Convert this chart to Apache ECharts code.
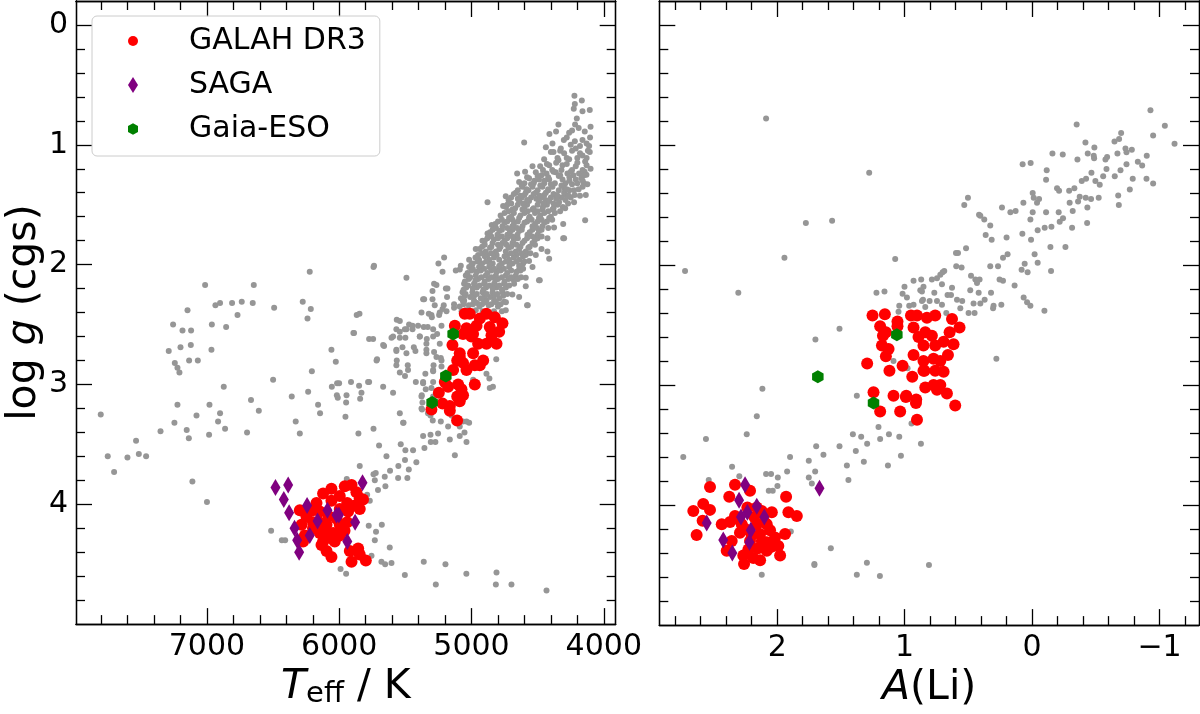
<!DOCTYPE html>
<html>
<head>
<meta charset="utf-8">
<title>log g vs Teff and A(Li)</title>
<script src="https://cdn.jsdelivr.net/npm/echarts@6/dist/echarts.min.js"></script>
<style>
  html, body { margin: 0; padding: 0; background: #fff; }
  #chart { width: 1200px; height: 714px; }
</style>
</head>
<body>
<div id="chart"></div>
<script>
// ---- ticks ----
const teffTicks = [4000, 5000, 6000, 7000];
const teffMinor = [4200, 4400, 4600, 4800, 5200, 5400, 5600, 5800, 6200, 6400, 6600, 6800, 7200, 7400, 7600, 7800];
const aliTicks = [-1, 0, 1, 2];
const aliMinor = [-1.2, -0.8, -0.6, -0.4, -0.2, 0.2, 0.4, 0.6, 0.8, 1.2, 1.4, 1.6, 1.8, 2.2, 2.4, 2.6, 2.8];
const loggTicks = [0, 1, 2, 3, 4];
const loggMinor = [0.2, 0.4, 0.6, 0.8, 1.2, 1.4, 1.6, 1.8, 2.2, 2.4, 2.6, 2.8, 3.2, 3.4, 3.6, 3.8, 4.2, 4.4, 4.6, 4.8];

// ---- left panel: [Teff, log g] ----
const fieldTeff = [
  [7803,3.25],[7750,3.60],[7702,3.73],[7601,3.61],[7536,3.47],[7515,3.58],[7460,3.60],[7351,3.39],[7289,2.72],[7256,2.50],
  [7185,2.55],[7120,2.55],[7147,2.38],[7200,2.69],[7122,2.67],[7243,2.82],[7223,2.86],[7208,2.90],[7135,2.80],[7069,2.80],
  [7014,2.17],[6936,2.34],[6901,2.32],[6963,2.50],[6855,2.52],[6966,2.71],[6810,2.32],[6737,2.31],[6654,2.32],[6646,2.17],
  [6769,2.42],[6492,2.36],[6276,2.31],[6223,2.06],[6215,2.37],[6240,2.45],[7223,3.17],[7246,3.32],[7153,3.38],[7137,3.45],
  [7079,3.26],[6981,3.17],[6984,3.42],[6916,3.31],[6901,3.24],[6863,3.37],[6873,3.02],[6697,3.40],[6667,3.13],[6608,3.22],
  [7110,3.81],[6500,2.96],[6359,3.10],[6329,3.31],[6298,3.41],[6235,3.06],[6207,2.89],[6160,3.17],[6145,3.24],[6059,2.71],
  [6026,2.81],[6056,3.02],[6016,2.99],[6001,2.99],[6018,3.09],[6011,3.11],[5945,3.09],[5948,3.15],[5953,3.27],[5911,2.98],
  [5850,3.01],[5832,3.07],[5842,3.12],[5774,2.98],[5855,3.41],[5893,2.57],[5868,2.42],[5847,2.41],[5774,2.62],[5744,2.62],
  [5741,2.02],[5741,3.37],[5845,3.68],[5943,3.79],[5741,3.75],[7000,3.98],
  [5888,2.57],[5714,2.79],[5668,3.02],[5593,3.07],[5542,3.24],[5514,3.32],[5699,3.51],[5643,3.60],[5535,3.50],[5500,3.55],
  [5442,3.55],[5503,3.63],[5553,3.68],[5417,3.65],[5474,3.71],[5616,3.72],[5656,3.77],[5724,3.74],[5731,3.80],[5555,3.78],
  [5485,3.78],[5651,3.85],[5707,3.88],[5769,3.97],[5789,3.92],[5777,4.18],[5678,4.17],[5722,4.23],[5731,4.30],[5618,4.36],
  [5756,4.43],[5681,4.48],[5653,4.50],[5605,4.49],[5990,4.54],[5948,4.58],[5504,4.59],[5361,4.48],[5270,4.67],[5197,4.50],
  [5039,4.58],[4811,4.57],[4816,4.67],[6515,4.22],[6434,4.30],[6409,4.30],[4698,4.67],[4433,4.72],
  [5565,2.46],[5542,2.47],[5472,2.50],[5446,2.54],[5404,2.51],[5361,2.52],[5568,2.54],[5492,2.54],[5605,2.61],[5542,2.61],
  [5500,2.61],[5436,2.69],[5391,2.60],[5338,2.62],[5331,2.52],[5290,2.54],[5260,2.58],[5227,2.51],[5300,2.44],[5245,2.42],
  [5189,2.39],[5132,2.33],[5066,2.30],[5026,2.38],[4958,2.32],[4887,2.30],[5661,2.68],[5568,2.72],[5522,2.69],[5424,2.72],
  [5341,2.71],[5283,2.73],[5565,2.80],[5482,2.84],[5542,2.90],[5503,2.93],[5421,2.98],[5366,2.99],[5290,2.98],[5346,3.04],
  [5376,3.09],[5290,2.89],[5287,2.84],[5232,2.78],[5349,2.91],[5371,3.15],[5374,3.21],[5329,3.24],[5293,3.30],[5232,3.31],
  [5177,3.35],[5366,3.43],[5310,3.42],[5308,3.48],[5273,3.48],[5356,3.53],[5253,3.41],[5164,3.46],[5089,3.43],[5053,3.40],
  [5038,3.48],[5018,3.32],[5126,3.59],[4865,2.95],[4838,3.02],[4813,2.79],[5151,3.26],[5064,3.31],
  [5737,2.01],[5492,2.11],[5089,2.04],[5265,2.17],[5295,2.22],[5366,2.29],[5194,2.20],[5185,2.27],[5278,2.34],[5210,2.34],
  [5240,2.40],[5303,2.42],[5378,2.40],[5446,2.51],[5542,2.56],[5504,2.54],[5593,2.60],[5668,2.67],[5391,2.60],[5341,2.66],
  [5290,2.60],[5240,2.66],[5568,2.71],[5492,2.74],[5341,2.74],[5265,2.77],[5227,2.80],[5718,2.80],[5568,2.84],[5480,2.88],
  [5290,2.88],[5227,2.85],[5782,2.98],[5366,2.98],[5303,3.03],[5378,3.10],[5290,3.10],[5517,3.32],[5378,3.20],[5310,3.26],
  [5089,3.35],[5038,3.31],[4862,3.03],[4988,2.96],[5038,2.85],[4887,2.91],[4580,2.34],[4307,1.78],[4484,2.13],
  [4222,0.59],[4166,0.63],[4219,0.66],[4227,0.70],[4161,0.72],[4106,0.71],[4204,0.78],[4343,0.83],[4217,0.83],[4100,0.85],
  [4361,0.89],[4411,0.91],[4262,0.90],[4144,0.89],[4104,0.94],[4602,0.98],[4302,0.96],[4219,0.97],[4161,0.96],[4111,1.01],
  [4388,0.99],[4438,1.02],[4400,1.06],[4325,1.03],[4212,1.03],[4161,1.09],[4106,1.06],[4262,1.12],[4343,1.13],[4451,1.12],
  [4481,1.18],[4413,1.17],[4312,1.17],[4212,1.18],[4141,1.14],[4100,1.20],[4539,1.18],[4514,1.23],[4433,1.24],[4363,1.23],
  [4275,1.24],[4187,1.24],[4131,1.25],[4655,1.24],[4565,1.28],[4490,1.29],[4413,1.29],[4312,1.29],[4212,1.29],[4124,1.33],
  [4640,1.31],[4615,1.35],[4539,1.35],[4464,1.35],[4388,1.35],[4300,1.36],[4225,1.38],[4136,1.42],[4741,1.43],[4761,1.51],
  [4879,1.48],[4665,1.40],[4590,1.40],[4514,1.40],[4438,1.40],[4363,1.42],[4287,1.42],[4225,1.48],[4640,1.47],[4565,1.47],
  [4490,1.47],[4413,1.47],[4338,1.48],[4292,1.53],[4691,1.54],[4615,1.54],[4539,1.54],[4464,1.54],[4388,1.54],[4716,1.61],
  [4640,1.61],[4565,1.61],[4490,1.61],[4413,1.61],[4307,1.66],[4141,1.63],[4847,1.67],[4766,1.68],[4691,1.68],[4615,1.68],
  [4539,1.68],[4464,1.68],[4376,1.69],[4300,1.78],[4879,1.74],[4804,1.75],[4729,1.75],[4653,1.75],[4577,1.75],[4501,1.75],
  [4426,1.78],[4917,1.80],[4841,1.82],[4766,1.82],[4691,1.82],[4615,1.82],[4539,1.82],[4471,1.87],[4426,1.89],[4413,1.95],
  [4968,1.87],[4892,1.89],[4816,1.89],[4741,1.89],[4665,1.89],[4590,1.89],[4514,1.92],[5207,1.94],[5250,1.99],[5018,1.96],
  [4943,1.96],[4867,1.96],[4791,1.96],[4716,1.96],[4640,1.96],[4565,1.97],[5081,2.01],[5119,2.05],[5219,2.06],[5018,2.02],
  [4943,2.02],[4867,2.02],[4791,2.02],[4716,2.02],[4640,2.04],[4539,2.02],[5043,2.09],[4968,2.09],[4892,2.09],[4816,2.09],
  [4741,2.09],[4665,2.09],[4590,2.11],[4490,2.13],[5283,2.16],[5182,2.20],[5056,2.16],[4981,2.16],[4905,2.16],[4829,2.16],
  [4754,2.16],[4678,2.16],[4590,2.18],[5358,2.29],[5295,2.29],[5068,2.23],[4993,2.23],[4917,2.23],[4841,2.23],[4766,2.23],
  [4691,2.25],[4640,2.27],[4575,2.34],[5132,2.36],[5219,2.37],[5056,2.30],[4981,2.30],[4905,2.30],[4829,2.30],[4754,2.31],
  [5043,2.38],[4968,2.38],[4741,2.38],[5323,2.41],
  [4350,1.11],[4280,1.11],[4200,1.11],[4130,1.11],[4460,1.21],[4390,1.21],[4320,1.21],[4240,1.21],[4160,1.21],
  [4600,1.32],[4530,1.32],[4450,1.32],[4370,1.32],[4290,1.32],[4200,1.32],[4150,1.32],[4650,1.38],[4570,1.38],[4500,1.38],
  [4420,1.38],[4340,1.38],[4260,1.38],[4700,1.44],[4620,1.44],[4550,1.44],[4470,1.44],[4400,1.44],[4320,1.44],[4250,1.44],
  [4730,1.50],[4650,1.50],[4580,1.50],[4500,1.50],[4430,1.50],[4350,1.50],[4750,1.57],[4680,1.57],[4600,1.57],[4520,1.57],
  [4450,1.57],[4370,1.57],[4800,1.64],[4730,1.64],[4650,1.64],[4580,1.64],[4500,1.64],[4430,1.64],[4840,1.71],[4770,1.71],
  [4690,1.71],[4620,1.71],[4540,1.71],[4470,1.71],[4880,1.78],[4800,1.78],[4730,1.78],[4650,1.78],[4580,1.78],[4500,1.78],
  [4920,1.85],[4850,1.85],[4780,1.85],[4700,1.85],[4630,1.85],[4560,1.85],[4950,1.92],[4880,1.92],[4810,1.92],[4730,1.92],
  [4660,1.92],[4590,1.92],[4990,1.99],[4920,1.99],[4840,1.99],[4770,1.99],[4690,1.99],[4610,1.99],[5000,2.05],[4930,2.05],
  [4850,2.05],[4780,2.05],[4700,2.05],[4630,2.05],[5020,2.12],[4950,2.12],[4870,2.12],[4800,2.12],[4720,2.12],[4650,2.12],
  [5040,2.19],[4960,2.19],[4890,2.19],[4810,2.19],[4740,2.19],[5050,2.26],[4980,2.26],[4900,2.26],[4830,2.26],[4760,2.26],
  [5060,2.33],[4990,2.33],[4920,2.33],[4850,2.33],[4780,2.33],
  [4380,1.06],[4300,1.07],[4240,1.05],[4180,1.07],[4120,1.05],[4430,1.16],[4360,1.15],[4280,1.16],[4200,1.15],[4130,1.17],
  [4580,1.27],[4500,1.26],[4420,1.27],[4340,1.26],[4260,1.27],[4170,1.28],[4620,1.34],[4550,1.33],[4480,1.34],[4400,1.33],
  [4320,1.34],[4240,1.33],[4160,1.35],[4680,1.41],[4600,1.42],[4530,1.41],[4450,1.42],[4380,1.41],[4300,1.40],[4220,1.42],
  [4720,1.46],[4650,1.45],[4580,1.46],[4510,1.45],[4440,1.46],[4360,1.45],[4290,1.46],[4740,1.52],[4670,1.53],[4600,1.52],
  [4530,1.53],[4460,1.52],[4380,1.53],[4310,1.52],[4780,1.59],[4700,1.60],[4630,1.59],[4560,1.60],[4480,1.59],[4400,1.60],
  [4820,1.66],[4750,1.65],[4680,1.66],[4600,1.65],[4520,1.66],[4450,1.65],[4860,1.73],[4790,1.72],[4710,1.73],[4640,1.72],
  [4560,1.73],[4490,1.72],[4900,1.80],[4830,1.79],[4750,1.80],[4680,1.79],[4600,1.80],[4520,1.79],[4940,1.87],[4860,1.86],
  [4790,1.87],[4720,1.86],[4640,1.87],[4570,1.86],[4970,1.94],[4900,1.93],[4830,1.94],[4750,1.93],[4680,1.94],[4610,1.93],
  [5000,2.00],[4930,2.01],[4860,2.00],[4790,2.01],[4710,2.00],[4640,2.01],[5030,2.07],[4960,2.06],[4880,2.07],[4810,2.06],
  [4730,2.07],[4660,2.06],[5050,2.14],[4970,2.13],[4900,2.14],[4820,2.13],[4750,2.14],[4680,2.13],[5060,2.21],[4990,2.20],
  [4910,2.21],[4840,2.20],[4770,2.21],[5080,2.28],[5010,2.27],[4930,2.28],[4860,2.27],[4790,2.28],[5090,2.35],[5020,2.34],
  [4940,2.35],[4870,2.34],[4800,2.35],
  [4595,1.225],[4380,1.225],[4250,1.225],[4145,1.225],[4470,1.255],[4330,1.255],[4230,1.255],[4150,1.255],
  [4525,1.30],[4450,1.30],[4260,1.30],[4160,1.30],[4585,1.37],[4420,1.37],[4280,1.37],[4190,1.37],
  [4630,1.425],[4485,1.425],[4350,1.425],[4265,1.425],[4180,1.425],[4700,1.49],[4610,1.49],[4455,1.49],[4380,1.49],[4270,1.49],
  [4720,1.555],[4575,1.555],[4500,1.555],[4420,1.555],[4330,1.555],[4770,1.625],[4690,1.625],[4545,1.625],[4470,1.625],[4390,1.625],
  [4815,1.695],[4730,1.695],[4655,1.695],[4505,1.695],[4420,1.695],[4850,1.765],[4770,1.765],[4690,1.765],[4540,1.765],[4470,1.765],
  [4900,1.835],[4800,1.835],[4735,1.835],[4660,1.835],[4520,1.835],[4920,1.905],[4850,1.905],[4700,1.905],[4625,1.905],[4555,1.905],
  [4955,1.975],[4890,1.975],[4740,1.975],[4660,1.975],[4600,1.975],[4990,2.035],[4905,2.035],[4830,2.035],[4755,2.035],[4610,2.035],
  [5010,2.105],[4925,2.105],[4850,2.105],[4770,2.105],[4700,2.105],[4625,2.105],[5025,2.175],[4940,2.175],[4865,2.175],[4790,2.175],
  [4715,2.175],[5045,2.245],[4960,2.245],[4885,2.245],[4805,2.245],[4730,2.245],[5060,2.315],[4975,2.315],[4895,2.315],[4815,2.315],
  [4740,2.315],[5075,2.39],[5000,2.39],[4915,2.39],[4830,2.39],[4770,2.39],
  [4250,1.00],[4180,1.01],[4330,1.05],[4280,0.94],[4130,0.99],[4240,0.88],[4190,0.86]
];
const galahTeff = [
  [5051,2.41],[5013,2.41],[4887,2.41],[4824,2.44],[4937,2.45],[4766,2.49],[5126,2.51],[5038,2.53],[4962,2.51],[4862,2.52],
  [4791,2.56],[5064,2.58],[5001,2.60],[4849,2.59],[4887,2.66],[4811,2.66],[4950,2.66],[5144,2.67],[4988,2.74],[5089,2.74],
  [4912,2.80],[5108,2.80],[5064,2.82],[4975,2.84],[5038,2.88],[5139,2.88],[5202,2.98],[5177,3.02],[5101,3.00],[4975,3.00],
  [5076,3.04],[5247,3.07],[5108,3.10],[5064,3.09],[5219,3.16],[5164,3.18],[5089,3.14],[5303,3.21],[5164,3.22],[5109,3.30],
  [4988,2.58],[4937,2.84],[5089,2.77],
  [6122,3.91],[6059,3.87],[5996,3.93],[5958,3.85],[5907,3.84],[5870,3.90],[5845,3.95],[5820,3.96],[6172,3.99],[6059,3.97],
  [5940,3.99],[5882,4.01],[6298,4.05],[6248,4.10],[6147,4.06],[5996,4.04],[5933,4.06],[5845,4.04],[6285,4.17],[6198,4.15],
  [6096,4.17],[5996,4.17],[5940,4.15],[6260,4.26],[6147,4.24],[6046,4.24],[5996,4.26],[6273,4.31],[6122,4.31],[6034,4.31],
  [6096,4.39],[6059,4.44],[5920,4.39],[5857,4.37],[5907,4.48],[5845,4.42],[5799,4.47],[6134,4.34],[6198,4.20],[6109,4.23],
  [6080,4.10],[6020,4.12],[6150,4.15],[6200,4.05],[5960,4.22],[6070,4.28]
];
const sagaTeff = [
  [6482,3.86],[6386,3.84],[6419,3.96],[6379,4.07],[6338,4.20],[6318,4.30],[6303,4.40],[6243,4.01],[6223,4.26],[6164,4.14],
  [6089,4.05],[6021,4.09],[6003,4.09],[5880,4.15],[5939,4.31],[5824,3.82]
];
const gesTeff = [[5139,2.58],[5194,2.93],[5298,3.15]];

// ---- right panel: [A(Li), log g] ----
const fieldLi = [
  [2.087,0.78],[1.278,1.23],[1.775,1.65],[1.569,1.63],[1.943,1.94],[1.074,1.95],[2.723,2.05],[2.305,2.23],[1.221,2.23],[1.158,2.22],
  [1.511,2.53],[1.700,2.62],[2.116,3.03],[1.001,2.18],[0.930,2.13],[0.870,2.12],[0.852,2.18],[1.016,2.24],[0.982,2.27],[0.877,2.21],
  [1.042,2.34],[1.048,2.39],[0.964,2.34],[0.930,2.33],[0.856,2.29],[1.087,2.80],[0.977,2.86],[1.375,3.09],
  [-0.929,0.71],[-1.042,0.84],[-1.118,0.99],[-0.950,0.92],[-0.350,0.83],[-0.699,0.90],[-0.683,0.95],[-0.647,0.97],[-0.419,0.98],[-0.489,1.02],
  [-0.733,1.03],[-0.783,1.04],[-0.741,1.06],[-0.670,1.07],[-0.900,1.09],[-0.437,1.07],[-0.484,1.09],[-0.487,1.11],[-0.160,1.07],[-0.241,1.08],
  [-0.356,1.12],[-0.589,1.10],[-0.576,1.12],[-0.830,1.14],[-0.864,1.17],[-0.741,1.16],[-0.694,1.21],[-0.466,1.23],[-0.584,1.20],[-0.649,1.26],
  [-0.558,1.26],[-0.790,1.28],[-0.898,1.28],[-0.950,1.32],[-0.767,1.37],[-0.390,1.30],[-0.424,1.28],[-0.497,1.30],[-0.531,1.33],[-0.332,1.36],
  [-0.291,1.38],[-0.196,1.36],[-0.212,1.38],[-0.115,1.21],[-0.110,1.29],[0.074,1.16],[0.011,1.15],[-0.005,1.40],[-0.013,1.44],[-0.055,1.45],
  [-0.039,1.48],[0.068,1.48],[-0.374,1.43],[-0.421,1.44],[-0.463,1.45],[-0.523,1.44],[-0.361,1.47],[-0.295,1.48],[-0.434,1.52],[-0.676,1.42],
  [-0.681,1.50],[-0.110,1.56],[-0.209,1.56],[-0.319,1.55],[-0.243,1.61],[-0.217,1.64],[-0.432,1.65],[-0.314,1.69],[-0.152,1.68],[-0.099,1.69],
  [-0.044,1.71],[0.013,1.62],[-0.005,1.56],[0.129,1.55],[0.170,1.56],[0.236,1.52],[0.076,1.74],[0.008,1.79],[-0.144,1.85],[-0.262,1.85],
  [-0.020,1.91],[-0.044,1.98],[-0.149,2.05],[0.058,1.99],[0.035,2.06],[0.082,2.04],[0.066,2.27],[0.039,2.31],[0.013,2.34],[-0.097,2.38],
  [0.137,2.17],[0.192,1.91],[0.228,1.94],[0.200,1.77],[0.317,1.79],[0.364,1.75],[0.328,1.67],[0.406,1.59],[0.375,1.62],[0.416,1.58],
  [0.532,1.50],[0.503,1.44],[0.518,1.86],[0.597,1.90],[0.581,1.90],[0.595,2.01],[0.553,2.02],[0.328,2.01],[0.267,2.01],[0.255,2.12],
  [0.228,2.13],[0.479,2.09],[0.445,2.12],[0.412,2.12],[0.432,2.15],[0.485,2.21],[0.419,2.23],[0.322,2.23],[0.372,2.29],[0.406,2.32],
  [0.459,2.32],[0.241,2.33],[0.302,2.34],[0.306,2.36],[0.498,2.40],[0.451,2.40],[0.628,2.19],[0.636,2.25],[0.663,2.25],[0.589,2.29],
  [0.548,2.30],[0.563,2.36],[0.702,2.06],[0.689,2.05],[0.720,2.08],[0.746,2.11],[0.786,2.12],[0.707,2.16],[0.767,2.23],[0.804,2.30],
  [0.746,2.30],[0.838,2.35],[0.707,2.33],[0.864,2.22],[0.864,2.30],[0.673,2.40],[0.280,2.78],
  [2.160,3.26],[2.239,3.41],[2.559,3.45],[2.737,3.60],[2.354,3.68],[2.297,3.76],[2.537,3.79],[2.087,3.74],[2.048,3.74],[1.995,3.77],
  [1.998,3.84],[2.066,3.88],[2.035,3.88],[1.922,3.72],[1.899,3.60],[1.752,3.63],[1.694,3.51],[1.637,3.58],[1.702,3.72],[1.752,3.77],
  [1.728,3.82],[1.511,3.51],[1.406,3.41],[1.341,3.43],[1.383,3.55],[1.453,3.67],[1.441,3.79],[1.320,3.64],[1.294,3.49],[1.192,3.45],
  [1.123,3.41],[1.042,3.43],[1.131,3.67],[1.029,3.59],[1.205,3.35],[0.872,3.49],[0.946,3.32],[1.893,4.22],[1.579,4.36],[1.708,4.49],
  [1.708,4.50],[1.296,4.48],[1.375,4.58],[1.194,4.59],[0.809,4.50],[2.121,4.58]
];
const galahLi = [
  [1.252,2.42],[1.155,2.41],[1.192,2.51],[1.056,2.47],[1.056,2.51],[1.170,2.59],[1.147,2.56],[1.178,2.67],[1.126,2.70],[1.147,2.76],
  [1.294,2.82],[1.119,2.88],[1.016,2.84],[0.940,2.93],[1.244,3.06],[1.087,3.09],[0.987,3.09],[0.950,2.42],[0.903,2.42],[0.930,2.52],
  [0.891,2.60],[0.838,2.56],[0.825,2.44],[0.930,2.75],[0.852,2.80],[0.844,2.88],[0.838,3.02],[0.760,2.42],[0.628,2.45],[0.569,2.52],
  [0.647,2.56],[0.786,2.59],[0.694,2.64],[0.616,2.66],[0.760,2.67],[0.852,2.67],[0.660,2.75],[0.720,2.80],[0.773,2.78],[0.694,2.89],
  [0.760,2.88],[0.852,2.88],[0.720,3.00],[0.773,3.00],[0.668,3.07],[0.746,3.04],[0.990,3.10],[0.909,3.12],[0.911,3.15],[1.192,3.22],
  [1.035,3.22],[0.903,3.29],[0.603,3.17],
  [2.527,3.85],[2.331,3.83],[2.213,3.88],[2.580,3.99],[2.658,4.05],[2.527,4.04],[2.376,3.93],[2.585,4.13],[2.632,4.25],[2.435,4.16],
  [2.370,4.14],[2.331,4.09],[2.234,4.02],[2.160,4.02],[2.121,4.05],[2.042,4.06],[1.930,3.93],[1.912,4.06],[1.846,4.09],[2.292,4.23],
  [2.213,4.30],[2.134,4.24],[2.056,4.21],[2.017,4.27],[1.938,4.24],[2.357,4.30],[2.396,4.38],[2.266,4.42],[2.187,4.44],[2.134,4.46],
  [2.082,4.38],[1.991,4.34],[1.977,4.42],[2.260,4.49],[2.082,4.31],[2.160,4.16],[2.082,4.16],[2.226,4.37],[2.278,4.16],
  [2.25,4.20],[2.18,4.10],[2.10,4.14],[2.30,4.12],[2.12,4.30],[2.05,4.35],[2.20,4.25],[2.15,4.36]
];
const sagaLi = [
  [2.252,3.83],[2.299,3.96],[2.160,4.01],[2.234,4.06],[2.284,4.10],[2.101,4.10],[2.553,4.15],[2.207,4.21],[2.218,4.31],[2.423,4.29],
  [2.352,4.40],[1.668,3.86]
];
const gesLi = [[1.061,2.58],[1.681,2.93],[1.244,3.15]];

const FONT = 'DejaVu Sans';
const INK = '#000';
const GREY = '#969696';
const DIAMOND = 'path://M5,0 L10,8 L5,16 L0,8 Z';
const HEXAGON = 'path://M5,0 L9.33,2.5 L9.33,7.5 L5,10 L0.67,7.5 L0.67,2.5 Z';

const nameRich = {
  rm: { fontFamily: FONT, fontSize: 41, color: INK },
  it: { fontFamily: FONT, fontSize: 41, fontStyle: 'italic', color: INK },
  sub: { fontFamily: FONT, fontSize: 29, color: INK, padding: [14, 0, 0, 0] }
};

function minusFmt(v) {
  return v < 0 ? '\u2212' + Math.abs(v) : String(v);
}

// four axes per side of a frame: major+minor on each edge, ticks pointing in
function frame(kind, gridIndex, range, major, minor, withLabels, fmt, name, nameGap) {
  const sides = kind === 'x' ? ['bottom', 'top'] : ['left', 'right'];
  const out = [];
  sides.forEach(function (pos, s) {
    [major, minor].forEach(function (ticks, k) {
      const main = s === 0 && k === 0;
      out.push({
        type: 'value',
        gridIndex: gridIndex,
        position: pos,
        min: range[0],
        max: range[1],
        inverse: true,
        axisLine: { show: true, onZero: false, lineStyle: { color: INK, width: 1.3 } },
        axisTick: { show: true, inside: true, length: k === 0 ? 16 : 9, customValues: ticks,
                    lineStyle: { color: INK, width: 1.3 } },
        axisLabel: (main && withLabels) ? {
          show: true, customValues: major, formatter: fmt, margin: 8,
          color: INK, fontSize: 30, fontFamily: FONT
        } : { show: false },
        splitLine: { show: false },
        name: main ? name : '',
        nameLocation: 'middle',
        nameGap: nameGap,
        nameTextStyle: { fontFamily: FONT, fontSize: 41, color: INK, rich: nameRich }
      });
    });
  });
  return out;
}

const xAxes = [].concat(
  frame('x', 0, [3910, 7990], teffTicks, teffMinor, true, function (v) { return String(v); },
        '{it|T}{sub|eff}{rm| / K}', 38),
  frame('x', 1, [-1.31, 2.925], aliTicks, aliMinor, true, minusFmt, '{it|A}{rm|(Li)}', 38)
);
const yAxes = [].concat(
  frame('y', 0, [-0.2, 5.0], loggTicks, loggMinor, true, function (v) { return String(v); },
        '{rm|log }{it|g}{rm| (cgs)}', 26),
  frame('y', 1, [-0.2, 5.0], loggTicks, loggMinor, false, null, '', 0)
);

function layer(name, data, gi, symbol, size, color, z) {
  return {
    name: name, type: 'scatter', data: data,
    xAxisIndex: gi * 4, yAxisIndex: gi * 4,
    symbol: symbol, symbolSize: size,
    itemStyle: { color: color, opacity: 1 },
    emphasis: { disabled: true },
    z: z
  };
}

const chart = echarts.init(document.getElementById('chart'), null, { renderer: 'canvas' });
chart.setOption({
  animation: false,
  backgroundColor: '#fff',
  grid: [
    { left: 76, right: 584.3, top: 1, bottom: 84 },
    { left: 659.3, right: 1, top: 1, bottom: 84 }
  ],
  xAxis: xAxes,
  yAxis: yAxes,
  legend: {
    orient: 'vertical',
    left: 92, top: 16,
    padding: [10, 14, 12, 36],
    itemGap: 14,
    itemWidth: 10, itemHeight: 16,
    backgroundColor: 'rgba(255,255,255,0.8)',
    borderColor: '#cccccc', borderWidth: 1, borderRadius: 5,
    textStyle: { fontFamily: FONT, fontSize: 30, color: INK, padding: [0, 0, 0, 46] },
    selectedMode: false,
    data: [
      { name: 'GALAH DR3', icon: 'circle' },
      { name: 'SAGA', icon: DIAMOND },
      { name: 'Gaia-ESO', icon: HEXAGON }
    ]
  },
  series: [
    layer('field', fieldTeff, 0, 'circle', 6, GREY, 2),
    layer('GALAH DR3', galahTeff, 0, 'circle', 12, '#ff0000', 3),
    layer('SAGA', sagaTeff, 0, DIAMOND, [10, 17], '#800080', 4),
    layer('Gaia-ESO', gesTeff, 0, HEXAGON, [11.5, 13], '#008000', 5),
    layer('field', fieldLi, 1, 'circle', 6, GREY, 2),
    layer('GALAH DR3', galahLi, 1, 'circle', 12, '#ff0000', 3),
    layer('SAGA', sagaLi, 1, DIAMOND, [10, 17], '#800080', 4),
    layer('Gaia-ESO', gesLi, 1, HEXAGON, [11.5, 13], '#008000', 5)
  ]
});
</script>
</body>
</html>
